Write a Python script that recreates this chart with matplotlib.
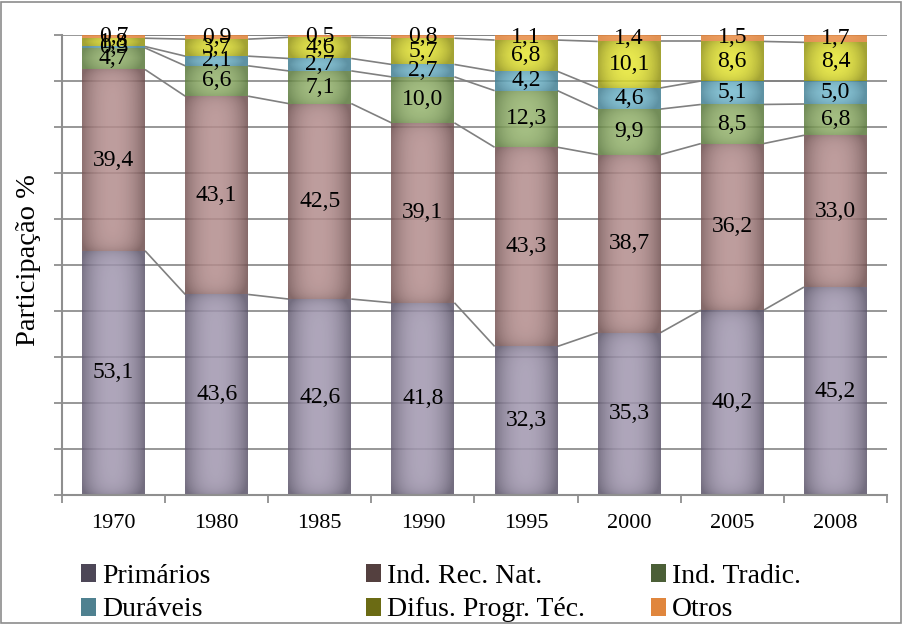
import numpy as np
import matplotlib
matplotlib.use("Agg")
import matplotlib.pyplot as plt
from matplotlib.patches import Rectangle, Patch

# ---------------- data ----------------
years = ["1970", "1980", "1985", "1990", "1995", "2000", "2005", "2008"]
series_names = ["Primários", "Ind. Rec. Nat.", "Ind. Tradic.",
                "Duráveis", "Difus. Progr. Téc.", "Otros"]
primarios = [53.1, 43.6, 42.6, 41.8, 32.3, 35.3, 40.2, 45.2]
ind_rec_nat = [39.4, 43.1, 42.5, 39.1, 43.3, 38.7, 36.2, 33.0]
ind_tradic = [4.7, 6.6, 7.1, 10.0, 12.3, 9.9, 8.5, 6.8]
duraveis = [0.3, 2.1, 2.7, 2.7, 4.2, 4.6, 5.1, 5.0]
difus = [1.8, 3.7, 4.6, 5.7, 6.8, 10.1, 8.6, 8.4]
otros = [0.7, 0.9, 0.5, 0.8, 1.1, 1.4, 1.5, 1.7]
values = [primarios, ind_rec_nat, ind_tradic, duraveis, difus, otros]

# ---------------- style ----------------
light = [(162, 152, 176), (180, 142, 142), (152, 182, 112),
         (122, 192, 212), (232, 232, 52), (238, 146, 74)]
dark = [(92, 85, 106), (112, 80, 80), (92, 122, 62),
        (68, 128, 148), (148, 148, 18), (222, 128, 56)]
legend_colors = ["#4d4757", "#54403f", "#4b5f37", "#4f8190", "#6b6b14", "#e0863d"]
grid_color = "#8f8f8f"
serif = "Liberation Serif"

W, H = 903, 624
fig = plt.figure(figsize=(W / 100, H / 100), dpi=100)
ax = fig.add_axes([62 / W, 1 - 495 / H, (887 - 62) / W, (495 - 35) / H])

x = np.arange(len(years))
bar_w = 0.61
ax.set_xlim(-0.5, len(years) - 0.5)
ax.set_ylim(0, 100)

# grid
ax.set_yticks(np.arange(0, 101, 10))
ax.yaxis.grid(True, color=grid_color, lw=1.3, zorder=0)
ax.set_axisbelow(True)
ax.tick_params(axis="y", which="major", length=6, width=1.3, color=grid_color,
               labelleft=False, direction="out")
ax.set_xticks(x)
ax.set_xticklabels(years, fontsize=16, family=serif)
ax.tick_params(axis="x", which="major", length=0, pad=14)
ax.set_xticks(np.arange(-0.5, len(years), 1.0), minor=True)
ax.tick_params(axis="x", which="minor", length=6, width=1.3, color=grid_color,
               direction="out")
for side in ["top", "right"]:
    ax.spines[side].set_visible(False)
for side in ["left", "bottom"]:
    ax.spines[side].set_color(grid_color)
    ax.spines[side].set_linewidth(1.5)

ax.set_ylabel("Participação %", fontsize=20.5, family=serif)
ax.yaxis.set_label_coords(-0.0255, 0.51)

px_per_unit = (495 - 35) / 100.0


def gradient_image(li, da, h_px):
    ny = max(4, int(h_px * 2))
    nx = 80
    u = np.linspace(-1, 1, nx)
    th = np.abs(u) ** 2.3 * 0.85 + np.clip(u, 0, None) * 0.12
    rows = (np.arange(ny) + 0.5) / ny * h_px
    d = np.minimum(rows, h_px - rows)
    tv = np.exp(-d / 7.0) * 0.45
    t = np.clip(th[None, :] + tv[:, None], 0, 1)
    li = np.array(li) / 255.0
    da = np.array(da) / 255.0
    img = li[None, None, :] * (1 - t[..., None]) + da[None, None, :] * t[..., None]
    return img


bottoms = np.zeros(len(years))
tops = []
for s, vals in enumerate(values):
    vals = np.array(vals)
    bars = ax.bar(x, vals, bar_w, bottom=bottoms, facecolor="none",
                  edgecolor="none", linewidth=0, zorder=2)
    for i, patch in enumerate(bars.patches):
        x0 = patch.get_x()
        y0 = patch.get_y()
        w = patch.get_width()
        h = patch.get_height()
        img = gradient_image(light[s], dark[s], h * px_per_unit)
        im = ax.imshow(img, extent=(x0, x0 + w, y0, y0 + h), origin="lower",
                       aspect="auto", interpolation="bilinear", zorder=2,
                       alpha=0.86)
        im.set_clip_path(patch)
        label = f"{vals[i]:.1f}".replace(".", ",")
        ax.text(x[i], y0 + h / 2, label, ha="center", va="center",
                fontsize=17, family=serif, color="black", zorder=5)
    bottoms = bottoms + vals
    tops.append(bottoms.copy())

# series lines
for top in tops:
    for i in range(len(years) - 1):
        ax.plot([x[i] + bar_w / 2, x[i + 1] - bar_w / 2], [top[i], top[i + 1]],
                color="#808080", lw=1.2, zorder=1.5, solid_capstyle="butt")

ax.set_xlim(-0.5, len(years) - 0.5)
ax.set_ylim(0, 100)

# legend: three columns, each a 2-row legend
order = [(0, 3), (1, 4), (2, 5)]
col_x = [81, 366, 651]
for cx, idxs in zip(col_x, order):
    handles = [Patch(facecolor=legend_colors[k], edgecolor="none",
                     label=series_names[k]) for k in idxs]
    fig.legend(handles=handles, loc="upper left",
               bbox_to_anchor=(cx / W, 1 - 564 / H),
               frameon=False, handlelength=0.55, handleheight=0.62,
               handletextpad=0.2, labelspacing=0.3, borderpad=0,
               borderaxespad=0, prop={"family": serif, "size": 20})

# outer frame
fig.patches.append(Rectangle((1.5 / W, 1.5 / H), 1 - 3 / W, 1 - 3 / H,
                             transform=fig.transFigure, fill=False,
                             edgecolor="#8c8c8c", lw=1.2))

fig.savefig("out.png", dpi=100)
